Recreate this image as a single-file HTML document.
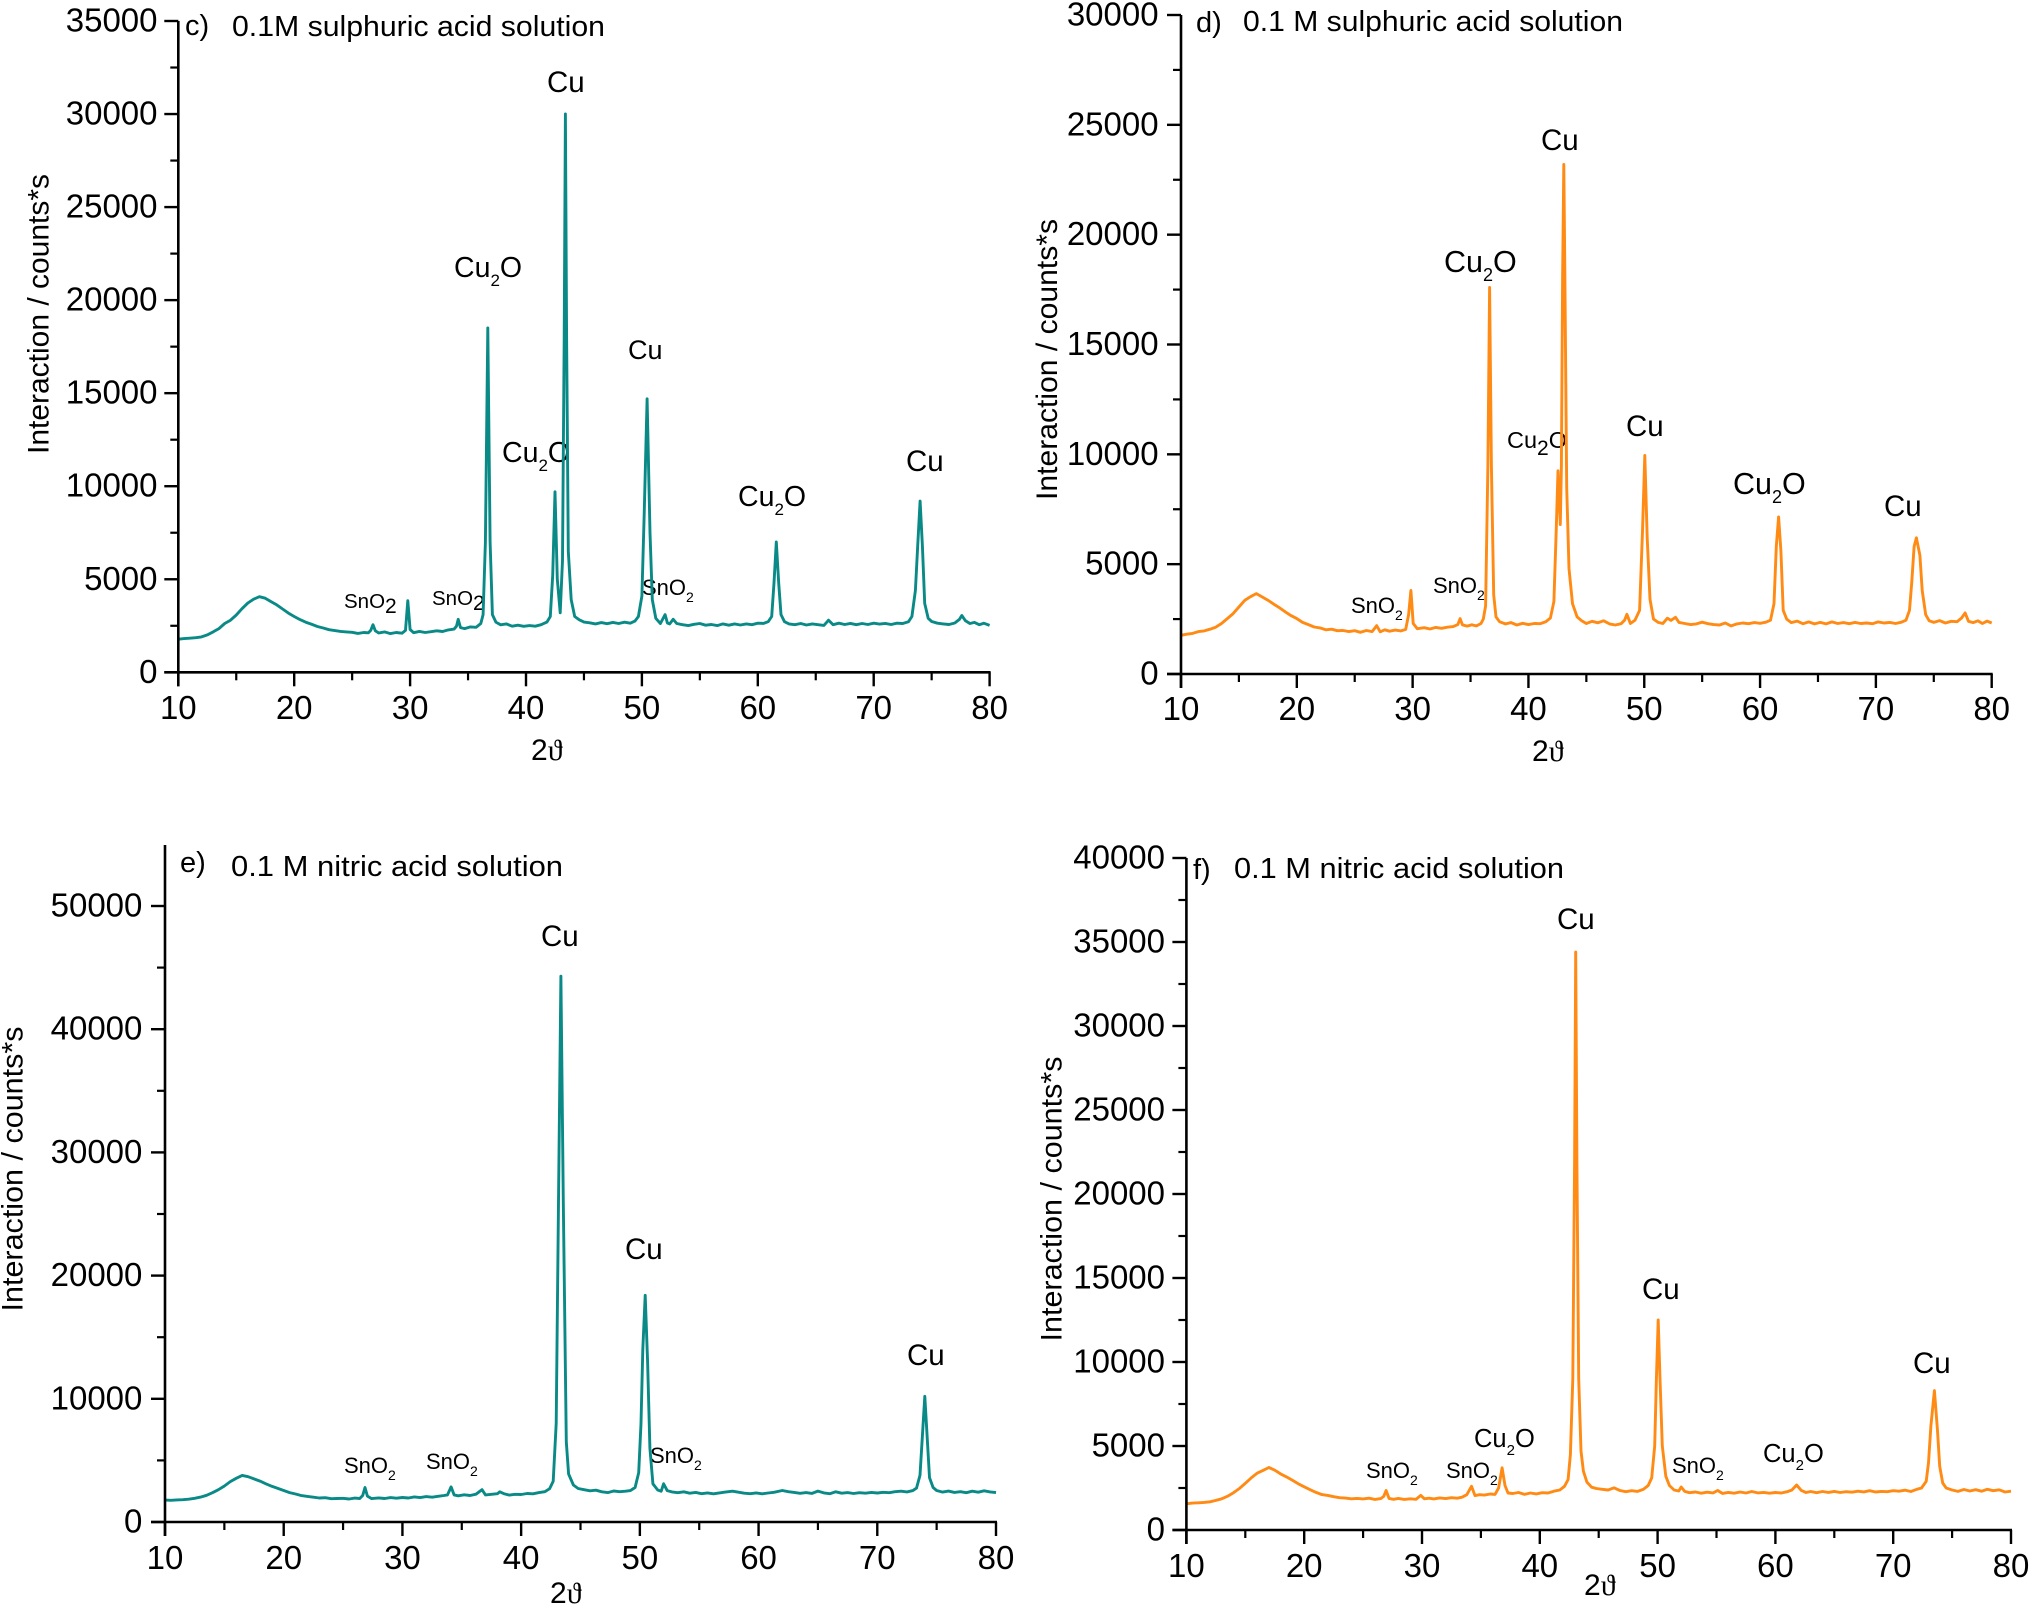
<!DOCTYPE html>
<html lang="en">
<head>
<meta charset="utf-8">
<title>XRD patterns in sulphuric and nitric acid solutions</title>
<style>
html,body{margin:0;padding:0;background:#fff;}
svg{display:block;}
text{font-family:"Liberation Sans",Arial,sans-serif;fill:#000;}
.th{font-family:"Liberation Serif","DejaVu Serif",serif;}
</style>
</head>
<body>
<svg id="figure" xmlns="http://www.w3.org/2000/svg" width="2029" height="1606" viewBox="0 0 2029 1606">
<rect width="2029" height="1606" fill="#fff"/>

<g id="panel-c">
<text x="185" y="35" font-size="29">c)</text>
<text x="232" y="36" font-size="29" textLength="373" lengthAdjust="spacingAndGlyphs">0.1M sulphuric acid solution</text>
<text transform="translate(48.5,314) rotate(-90)" text-anchor="middle" font-size="30" textLength="280" lengthAdjust="spacingAndGlyphs">Interaction / counts*s</text>
<text x="531" y="760" font-size="30">2<tspan class="th">ϑ</tspan></text>
<text x="547" y="92" font-size="29.5">Cu</text>
<text x="454" y="277" font-size="28.5">Cu<tspan dy="9" font-size="17">2</tspan><tspan dy="-9">O</tspan></text>
<text x="628" y="359" font-size="27">Cu</text>
<text x="502" y="462" font-size="28.5">Cu<tspan dy="9" font-size="17">2</tspan><tspan dy="-9">O</tspan></text>
<text x="738" y="506" font-size="28.5">Cu<tspan dy="9" font-size="17">2</tspan><tspan dy="-9">O</tspan></text>
<text x="906" y="471" font-size="29.5">Cu</text>
<text x="344" y="608" font-size="20.5">SnO<tspan dy="5" font-size="21">2</tspan></text>
<text x="432" y="605" font-size="20.5">SnO<tspan dy="5" font-size="21">2</tspan></text>
<text x="642" y="595" font-size="22">SnO<tspan dy="7" font-size="14">2</tspan></text>
</g>

<g id="panel-d">
<text x="1196" y="32" font-size="29">d)</text>
<text x="1243" y="31" font-size="29" textLength="380" lengthAdjust="spacingAndGlyphs">0.1 M sulphuric acid solution</text>
<text transform="translate(1057,359.5) rotate(-90)" text-anchor="middle" font-size="30" textLength="281" lengthAdjust="spacingAndGlyphs">Interaction / counts*s</text>
<text x="1532" y="761" font-size="30">2<tspan class="th">ϑ</tspan></text>
<text x="1541" y="150" font-size="29.5">Cu</text>
<text x="1444" y="272" font-size="30.5">Cu<tspan dy="9" font-size="18">2</tspan><tspan dy="-9">O</tspan></text>
<text x="1507" y="448" font-size="23.5">Cu<tspan dy="7" font-size="21">2</tspan><tspan dy="-7">O</tspan></text>
<text x="1626" y="436" font-size="29.5">Cu</text>
<text x="1733" y="494" font-size="30.5">Cu<tspan dy="9" font-size="18">2</tspan><tspan dy="-9">O</tspan></text>
<text x="1884" y="516" font-size="29.5">Cu</text>
<text x="1351" y="613" font-size="22">SnO<tspan dy="7" font-size="14">2</tspan></text>
<text x="1433" y="593" font-size="22">SnO<tspan dy="7" font-size="14">2</tspan></text>
</g>

<g id="panel-e">
<text x="180" y="872" font-size="29">e)</text>
<text x="231" y="876" font-size="29" textLength="332" lengthAdjust="spacingAndGlyphs">0.1 M nitric acid solution</text>
<text transform="translate(22.6,1169) rotate(-90)" text-anchor="middle" font-size="30" textLength="285" lengthAdjust="spacingAndGlyphs">Interaction / counts*s</text>
<text x="550" y="1603" font-size="30">2<tspan class="th">ϑ</tspan></text>
<text x="541" y="946" font-size="29.5">Cu</text>
<text x="625" y="1259" font-size="29.5">Cu</text>
<text x="907" y="1365" font-size="29.5">Cu</text>
<text x="344" y="1473" font-size="22">SnO<tspan dy="7" font-size="14">2</tspan></text>
<text x="426" y="1469" font-size="22">SnO<tspan dy="7" font-size="14">2</tspan></text>
<text x="650" y="1463" font-size="22">SnO<tspan dy="7" font-size="14">2</tspan></text>
</g>

<g id="panel-f">
<text x="1193" y="879" font-size="29">f)</text>
<text x="1234" y="878" font-size="29" textLength="330" lengthAdjust="spacingAndGlyphs">0.1 M nitric acid solution</text>
<text transform="translate(1061.6,1199) rotate(-90)" text-anchor="middle" font-size="30" textLength="285" lengthAdjust="spacingAndGlyphs">Interaction / counts*s</text>
<text x="1584" y="1595" font-size="30">2<tspan class="th">ϑ</tspan></text>
<text x="1557" y="929" font-size="29.5">Cu</text>
<text x="1642" y="1299" font-size="29.5">Cu</text>
<text x="1913" y="1373" font-size="29.5">Cu</text>
<text x="1474" y="1447" font-size="25.5">Cu<tspan dy="8" font-size="15">2</tspan><tspan dy="-8">O</tspan></text>
<text x="1763" y="1462" font-size="25.5">Cu<tspan dy="8" font-size="15">2</tspan><tspan dy="-8">O</tspan></text>
<text x="1366" y="1478" font-size="22">SnO<tspan dy="7" font-size="14">2</tspan></text>
<text x="1446" y="1478" font-size="22">SnO<tspan dy="7" font-size="14">2</tspan></text>
<text x="1672" y="1473" font-size="22">SnO<tspan dy="7" font-size="14">2</tspan></text>
</g>
</svg>

<script>
const xTickLabels = [10,20,30,40,50,60,70,80];
const yTickLabelsC = [0,5000,10000,15000,20000,25000,30000,35000];
const yTickLabelsD = [0,5000,10000,15000,20000,25000,30000];
const yTickLabelsE = [0,10000,20000,30000,40000,50000];
const yTickLabelsF = [0,5000,10000,15000,20000,25000,30000,35000,40000];

const thetaC = [
10,10.5,11,11.5,12,12.5,13,13.5,14,14.5,
15,15.5,16,16.5,17,17.5,18,18.5,19,19.5,
20,20.5,21,21.5,22,22.5,23,23.5,24,24.5,
25,25.5,26,26.4,26.6,26.8,27,27.3,27.8,28.3,
28.8,29.3,29.6,29.8,30,30.3,30.8,31.3,31.8,32.3,
32.8,33.3,33.8,34,34.15,34.35,34.7,35.2,35.7,36.1,
36.3,36.5,36.7,36.9,37.1,37.4,37.8,38.3,38.8,39.3,
39.8,40.3,40.8,41.3,41.8,42.1,42.3,42.5,42.7,42.95,
43.15,43.3,43.4,43.5,43.65,43.9,44.2,44.6,45,45.5,
46,46.5,47,47.5,48,48.5,49,49.4,49.7,50,
50.2,50.45,50.7,50.9,51.2,51.6,52,52.2,52.4,52.7,
53,53.5,54,54.5,55,55.5,56,56.5,57,57.5,
58,58.5,59,59.5,60,60.5,60.9,61.2,61.4,61.6,
61.8,62,62.3,62.7,63.2,63.7,64.2,64.7,65.2,65.7,
66.1,66.5,67,67.5,68,68.5,69,69.5,70,70.5,
71,71.5,72,72.5,73,73.3,73.6,73.8,74,74.2,
74.4,74.7,75,75.5,76,76.5,77,77.4,77.6,77.9,
78.3,78.7,79.1,79.5,80];
const countsC = [
1780,1810,1830,1860,1900,2010,2170,2350,2620,2800,
3080,3420,3720,3930,4060,3980,3800,3620,3400,3180,
3000,2830,2690,2580,2460,2380,2290,2240,2200,2170,
2150,2090,2140,2120,2250,2560,2230,2110,2170,2080,
2140,2100,2250,3850,2300,2130,2200,2140,2180,2230,
2190,2280,2320,2480,2850,2400,2350,2440,2420,2620,
3100,7000,18500,7000,3100,2700,2550,2600,2480,2530,
2470,2510,2480,2560,2700,3000,5200,9700,5000,3200,
6000,18000,30000,18000,6500,3900,3000,2820,2700,2660,
2600,2670,2610,2680,2620,2690,2640,2750,3000,4100,
8500,14700,7500,3900,2900,2620,3100,2650,2600,2850,
2620,2560,2510,2580,2620,2530,2570,2510,2600,2530,
2600,2540,2600,2560,2640,2630,2720,3000,4800,7000,
4800,3100,2720,2600,2560,2620,2540,2600,2560,2520,
2800,2560,2640,2570,2630,2560,2620,2570,2640,2590,
2630,2570,2640,2620,2720,3000,4400,6800,9200,6800,
3700,2900,2730,2640,2600,2570,2650,2850,3050,2780,
2620,2680,2560,2640,2520];

const thetaD = [
10,10.5,11,11.5,12,12.5,13,13.5,14,14.5,
15,15.5,16,16.5,17,17.5,18,18.5,19,19.5,
20,20.5,21,21.5,22,22.5,23,23.5,24,24.5,
25,25.5,26,26.5,26.9,27.2,27.6,28,28.5,29,
29.4,29.65,29.85,30.05,30.4,31,31.5,32,32.5,33,
33.5,33.9,34.1,34.3,34.7,35.1,35.5,35.9,36.1,36.3,
36.5,36.65,36.8,37,37.2,37.5,38,38.5,39,39.5,
40,40.5,41,41.5,41.9,42.2,42.4,42.55,42.75,42.85,
42.95,43.05,43.15,43.3,43.5,43.8,44.2,44.6,45,45.5,
46,46.5,47,47.5,48,48.3,48.5,48.8,49.2,49.6,
49.85,50.05,50.25,50.5,50.8,51.2,51.6,52,52.3,52.7,
53,53.5,54,54.5,55,55.5,56,56.5,57,57.5,
58,58.5,59,59.5,60,60.5,60.9,61.2,61.4,61.6,
61.8,62,62.3,62.7,63.2,63.7,64.2,64.7,65.2,65.7,
66.2,66.7,67.2,67.7,68.2,68.7,69.2,69.7,70.2,70.7,
71.2,71.7,72.2,72.6,72.9,73.1,73.3,73.5,73.8,74,
74.3,74.6,75,75.5,76,76.5,77,77.4,77.7,78,
78.4,78.8,79.2,79.6,80];
const countsD = [
1760,1810,1850,1930,1960,2040,2130,2300,2520,2750,
3050,3350,3520,3660,3510,3360,3180,3020,2830,2660,
2520,2350,2250,2140,2100,2010,2040,1970,1980,1930,
1970,1900,1980,1930,2200,1920,2010,1950,2000,1960,
2030,2700,3800,2300,2060,2110,2050,2120,2080,2130,
2160,2250,2520,2240,2180,2240,2190,2300,2500,3100,
9500,17600,9500,3600,2600,2380,2280,2340,2230,2310,
2250,2300,2290,2380,2550,3300,6500,9250,6800,9500,
18000,23200,18000,8500,4800,3200,2600,2420,2300,2400,
2330,2420,2280,2230,2290,2450,2720,2300,2450,2900,
6500,9950,6200,3400,2500,2350,2300,2540,2440,2580,
2350,2300,2250,2280,2360,2290,2250,2230,2320,2190,
2280,2320,2290,2340,2310,2360,2450,3200,5800,7150,
5600,2900,2500,2340,2410,2290,2370,2280,2350,2280,
2370,2300,2340,2290,2350,2300,2320,2290,2370,2320,
2350,2300,2360,2450,2900,4200,5800,6200,5400,3800,
2700,2420,2350,2430,2320,2400,2380,2550,2780,2400,
2340,2420,2300,2410,2320];

const thetaE = [
10,10.5,11,11.5,12,12.5,13,13.5,14,14.5,
15,15.5,16,16.5,17,17.5,18,18.5,19,19.5,
20,20.5,21,21.5,22,22.5,23,23.5,24,24.5,
25,25.5,26,26.4,26.65,26.85,27.05,27.4,28,28.5,
29,29.5,30,30.5,31,31.5,32,32.5,33,33.5,
33.8,34.1,34.35,34.7,35.2,35.7,36.2,36.7,37,37.5,
38,38.2,38.6,39,39.5,40,40.5,41,41.5,42,
42.4,42.7,42.95,43.15,43.35,43.55,43.8,44,44.4,44.8,
45.3,45.8,46.3,46.8,47.3,47.8,48.3,48.8,49.2,49.6,
49.9,50.1,50.25,50.45,50.65,50.85,51.1,51.5,51.8,52,
52.3,52.7,53.2,53.7,54.2,54.7,55.2,55.7,56.2,56.7,
57.2,57.8,58.3,58.8,59.3,59.8,60.3,60.8,61.3,62,
62.5,63,63.5,64,64.5,65,65.5,66,66.5,67,
67.5,68,68.5,69,69.5,70,70.5,71,71.5,72,
72.5,73,73.3,73.6,73.8,74,74.2,74.4,74.7,75,
75.5,76,76.5,77,77.5,78,78.5,79,79.5,80];
const countsE = [
1780,1760,1790,1810,1850,1920,2020,2170,2380,2620,
2920,3280,3550,3780,3680,3500,3320,3100,2900,2730,
2560,2390,2270,2140,2080,2010,1950,1970,1890,1910,
1920,1870,1940,1910,2150,2800,2100,1900,1960,1910,
1980,1930,1990,1950,2040,1980,2060,2010,2090,2150,
2200,2850,2200,2130,2210,2150,2260,2620,2200,2250,
2300,2450,2280,2180,2250,2230,2310,2290,2390,2460,
2700,3300,8000,26000,44300,26000,6500,3900,3000,2720,
2620,2530,2580,2450,2390,2520,2460,2500,2550,2800,
4000,8000,14000,18400,13000,6000,3100,2600,2500,3100,
2550,2440,2380,2450,2340,2400,2300,2360,2290,2360,
2430,2500,2420,2340,2300,2360,2290,2350,2410,2560,
2460,2400,2330,2390,2320,2510,2360,2300,2450,2340,
2390,2310,2380,2340,2400,2350,2410,2380,2460,2500,
2440,2550,2750,3800,7000,10200,7000,3600,2800,2560,
2430,2510,2400,2460,2380,2500,2420,2530,2440,2390];

const thetaF = [
10,10.5,11,11.5,12,12.5,13,13.5,14,14.5,
15,15.5,16,16.5,17,17.5,18,18.5,19,19.5,
20,20.5,21,21.5,22,22.5,23,23.5,24,24.5,
25,25.5,26,26.5,26.75,26.95,27.2,27.6,28,28.5,
29,29.5,29.9,30.2,30.6,31,31.5,32,32.5,33,
33.4,33.8,34.2,34.5,34.9,35.3,35.8,36.2,36.5,36.8,
37.05,37.3,37.7,38.2,38.7,39.2,39.7,40.2,40.7,41.2,
41.7,42.1,42.4,42.6,42.8,42.95,43.05,43.15,43.3,43.5,
43.7,44,44.4,44.8,45.3,45.8,46.3,46.8,47.3,47.8,
48.3,48.8,49.2,49.5,49.75,49.9,50.05,50.2,50.4,50.7,
51,51.4,51.8,52,52.3,52.7,53.2,53.7,54.2,54.7,
55.1,55.5,56,56.5,57,57.5,58,58.5,59,59.5,
60,60.5,61,61.4,61.8,62.2,62.6,63,63.5,64,
64.5,65,65.5,66,66.5,67,67.5,68,68.5,69,
69.5,70,70.5,71,71.5,72,72.4,72.8,73,73.2,
73.5,73.75,73.95,74.2,74.5,75,75.5,76,76.5,77,
77.5,78,78.5,79,79.5,80];
const countsF = [
1560,1600,1620,1640,1680,1760,1860,2010,2220,2470,
2780,3100,3380,3550,3720,3560,3340,3160,2960,2750,
2570,2400,2240,2110,2060,1980,1920,1900,1860,1880,
1850,1890,1820,1870,2000,2350,1880,1830,1880,1820,
1860,1830,2060,1860,1890,1850,1910,1870,1920,1890,
1950,2100,2600,2050,2100,2080,2140,2120,2500,3700,
2650,2200,2170,2230,2120,2200,2150,2220,2200,2310,
2380,2600,3000,4500,9000,22000,34400,22000,9000,4700,
3500,2850,2550,2470,2420,2380,2510,2350,2280,2340,
2300,2420,2650,3100,5000,9000,12500,9000,5000,3200,
2650,2380,2320,2560,2300,2220,2260,2190,2250,2210,
2350,2180,2240,2190,2260,2200,2290,2210,2240,2190,
2230,2200,2280,2380,2680,2360,2230,2290,2220,2290,
2240,2300,2230,2280,2250,2310,2270,2340,2260,2300,
2280,2340,2310,2370,2290,2420,2500,2900,4000,6200,
8300,6000,3800,2800,2500,2380,2300,2410,2320,2400,
2310,2420,2340,2390,2260,2310];

const SVG_NS = 'http://www.w3.org/2000/svg';

function makeX(frame) {
  return function (t) { return frame.left + (t - 10) / 70 * (frame.right - frame.left); };
}
function makeY(frame) {
  return function (v) { return frame.bottom - v / frame.refValue * (frame.bottom - frame.refPixel); };
}
function addLine(parent, x1, y1, x2, y2, width) {
  const l = document.createElementNS(SVG_NS, 'line');
  l.setAttribute('x1', x1);
  l.setAttribute('y1', y1);
  l.setAttribute('x2', x2);
  l.setAttribute('y2', y2);
  l.setAttribute('stroke', '#000');
  l.setAttribute('stroke-width', width);
  parent.appendChild(l);
  return l;
}
function addLabel(parent, x, y, str, anchor) {
  const t = document.createElementNS(SVG_NS, 'text');
  t.setAttribute('x', x);
  t.setAttribute('y', y);
  t.setAttribute('font-size', '33');
  t.setAttribute('text-anchor', anchor);
  t.textContent = str;
  parent.appendChild(t);
  return t;
}
function drawPanel(id, frame, theta, counts, yTicks, color) {
  const g = document.getElementById(id);
  const X = makeX(frame);
  const Y = makeY(frame);

  const series = document.createElementNS(SVG_NS, 'polyline');
  
  
  series.setAttribute('fill', 'none');
  series.setAttribute('stroke', color);
  series.setAttribute('stroke-width', '2.9');
  series.setAttribute('stroke-linejoin', 'round');
  series.setAttribute('points', theta.map(function (t, i) { return X(t).toFixed(1) + ',' + Y(counts[i]).toFixed(1); }).join(' '));
  g.appendChild(series);

  const yAxis = addLine(g, frame.left, frame.top, frame.left, frame.bottom + 14, 2.6);
  
  
  const xAxis = addLine(g, frame.left - 14, frame.bottom, frame.right + 1, frame.bottom, 2.6);
  
  

  xTickLabels.forEach(function (t, i) {
    const tick = addLine(g, X(t), frame.bottom, X(t), frame.bottom + 14, 2.4);
    
    
    const lab = addLabel(g, X(t), frame.xLabelY, String(t), 'middle');
    
    
    if (i < xTickLabels.length - 1) {
      const mid = (t + xTickLabels[i + 1]) / 2;
      const minor = addLine(g, X(mid), frame.bottom, X(mid), frame.bottom + 8, 2.2);
      
      
    }
  });

  yTicks.forEach(function (v, i) {
    const tick = addLine(g, frame.left - 14, Y(v), frame.left, Y(v), 2.4);
    
    
    const lab = addLabel(g, frame.yLabelX, Y(v) + 10.5, String(v), 'end');
    
    
    const next = i < yTicks.length - 1 ? yTicks[i + 1] : null;
    if (next !== null) {
      const mid = (v + next) / 2;
      const minor = addLine(g, frame.left - 8, Y(mid), frame.left, Y(mid), 2.2);
      
      
    }
  });
}

drawPanel('panel-c', {left:178.3, right:989.6, bottom:672.3, top:21, refValue:35000, refPixel:21, xLabelY:719, yLabelX:157.5}, thetaC, countsC, yTickLabelsC, '#0a8a86');
drawPanel('panel-d', {left:1181, right:1991.7, bottom:674, top:15, refValue:30000, refPixel:15, xLabelY:720, yLabelX:1158.6}, thetaD, countsD, yTickLabelsD, '#ff8a14');
drawPanel('panel-e', {left:165, right:996, bottom:1522, top:845, refValue:50000, refPixel:906, xLabelY:1569, yLabelX:142.4}, thetaE, countsE, yTickLabelsE, '#0a8a86');
drawPanel('panel-f', {left:1186.4, right:2011, bottom:1530, top:858, refValue:40000, refPixel:858, xLabelY:1577, yLabelX:1165}, thetaF, countsF, yTickLabelsF, '#ff8a14');
</script>
</body>
</html>
